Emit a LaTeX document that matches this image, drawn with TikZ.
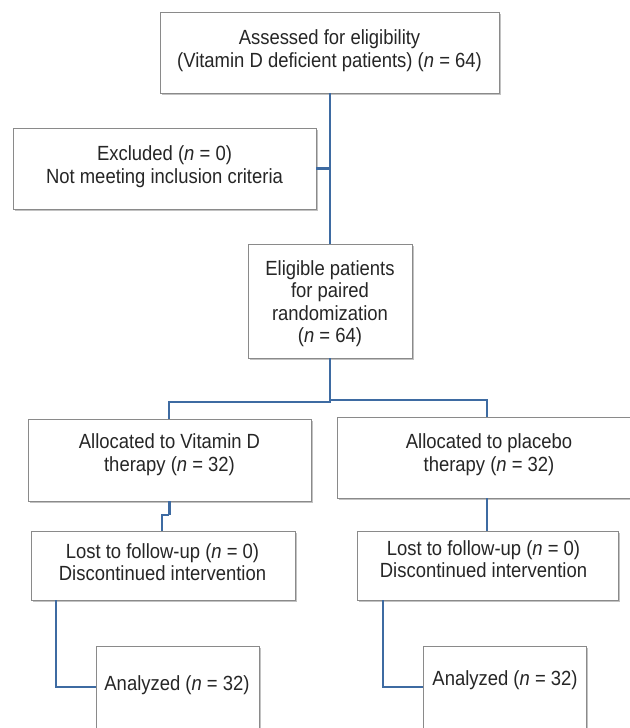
\documentclass[tikz,border=0pt]{standalone}
\usepackage{fontspec}
\setmainfont{Liberation Sans}[FakeStretch=0.9]
\usetikzlibrary{shadows}
\definecolor{lineblue}{HTML}{3E6BA2}
\definecolor{boxgray}{HTML}{8A8A8A}
\definecolor{txtgray}{HTML}{262626}
\begin{document}
\begin{tikzpicture}[x=1pt,y=-1pt,
  boxst/.style={draw=boxgray, line width=0.9pt, fill=white, inner sep=0pt,
    drop shadow={shadow xshift=1.5pt, shadow yshift=-2pt, opacity=0.4, fill=black!60}},
  txt/.style={text=txtgray, align=center, font=\fontsize{20.5}{22.5}\selectfont, inner sep=0pt},
  conn/.style={draw=lineblue, line width=2pt},
  thickconn/.style={draw=lineblue, line width=3pt}]
\useasboundingbox (0,0) rectangle (629,728);
% boxes
\node[boxst, minimum width=339pt, minimum height=81pt] (b1) at (329.5,52.5) {};
\node[txt] (b1t) at (329.5,50.5) {Assessed for eligibility\\(Vitamin D deficient patients) (\textit{n} = 64)};
\node[boxst, minimum width=303pt, minimum height=81pt] (exc) at (164.5,168.5) {};
\node[txt] (exct) at (164.5,166.5) {Excluded (\textit{n} = 0)\\Not meeting inclusion criteria};
\node[boxst, minimum width=164pt, minimum height=114pt] (elig) at (330,301) {};
\node[txt] (eligt) at (330,303.5) {Eligible patients\\for paired\\randomization\\(\textit{n} = 64)};
\node[boxst, minimum width=283pt, minimum height=82pt] (allocL) at (169.5,460) {};
\node[txt] (allocLt) at (169.5,454.5) {Allocated to Vitamin D\\therapy (\textit{n} = 32)};
\node[boxst, minimum width=295pt, minimum height=81pt] (allocR) at (484.5,457.5) {};
\node[txt] (allocRt) at (489,454.5) {Allocated to placebo\\therapy (\textit{n} = 32)};
\node[boxst, minimum width=264pt, minimum height=69pt] (lostL) at (163,565.5) {};
\node[txt] (lostLt) at (162.5,562) {Lost to follow-up (\textit{n} = 0)\\Discontinued intervention};
\node[boxst, minimum width=261pt, minimum height=69pt] (lostR) at (487.5,565.5) {};
\node[txt] (lostRt) at (483.5,559) {Lost to follow-up (\textit{n} = 0)\\Discontinued intervention};
\node[boxst, minimum width=163pt, minimum height=86pt] (anL) at (177.5,689) {};
\node[txt] (anLt) at (177,685) {Analyzed (\textit{n} = 32)};
\node[boxst, minimum width=163pt, minimum height=86pt] (anR) at (504.5,689) {};
\node[txt] (anRt) at (505,680) {Analyzed (\textit{n} = 32)};
% connectors
\draw[conn] (b1.south) -- (b1.south |- elig.north);
\draw[thickconn] (exc.east) -- (exc.east -| b1.south);
\coordinate (splitL) at (169,402);
\coordinate (splitR) at (487,400);
\draw[conn] (elig.south) -- (elig.south |- splitL) -- (splitL) -- (splitL |- allocL.north);
\draw[conn] (elig.south |- splitR) -- (splitR) -- (splitR |- allocR.north);
\coordinate (jogA) at (169,515);
\coordinate (jogB) at (162,515);
\draw[thickconn] (allocL.south -| jogA) -- (jogA);
\draw[conn] (jogA) -- (jogB) -- (jogB |- lostL.north);
\draw[conn] (allocR.south -| splitR) -- (splitR |- lostR.north);
\coordinate (cornL) at (56,687);
\coordinate (cornR) at (383,687);
\draw[conn] (lostL.south -| cornL) -- (cornL) -- (cornL -| anL.west);
\draw[conn] (lostR.south -| cornR) -- (cornR) -- (cornR -| anR.west);
\end{tikzpicture}
\end{document}
